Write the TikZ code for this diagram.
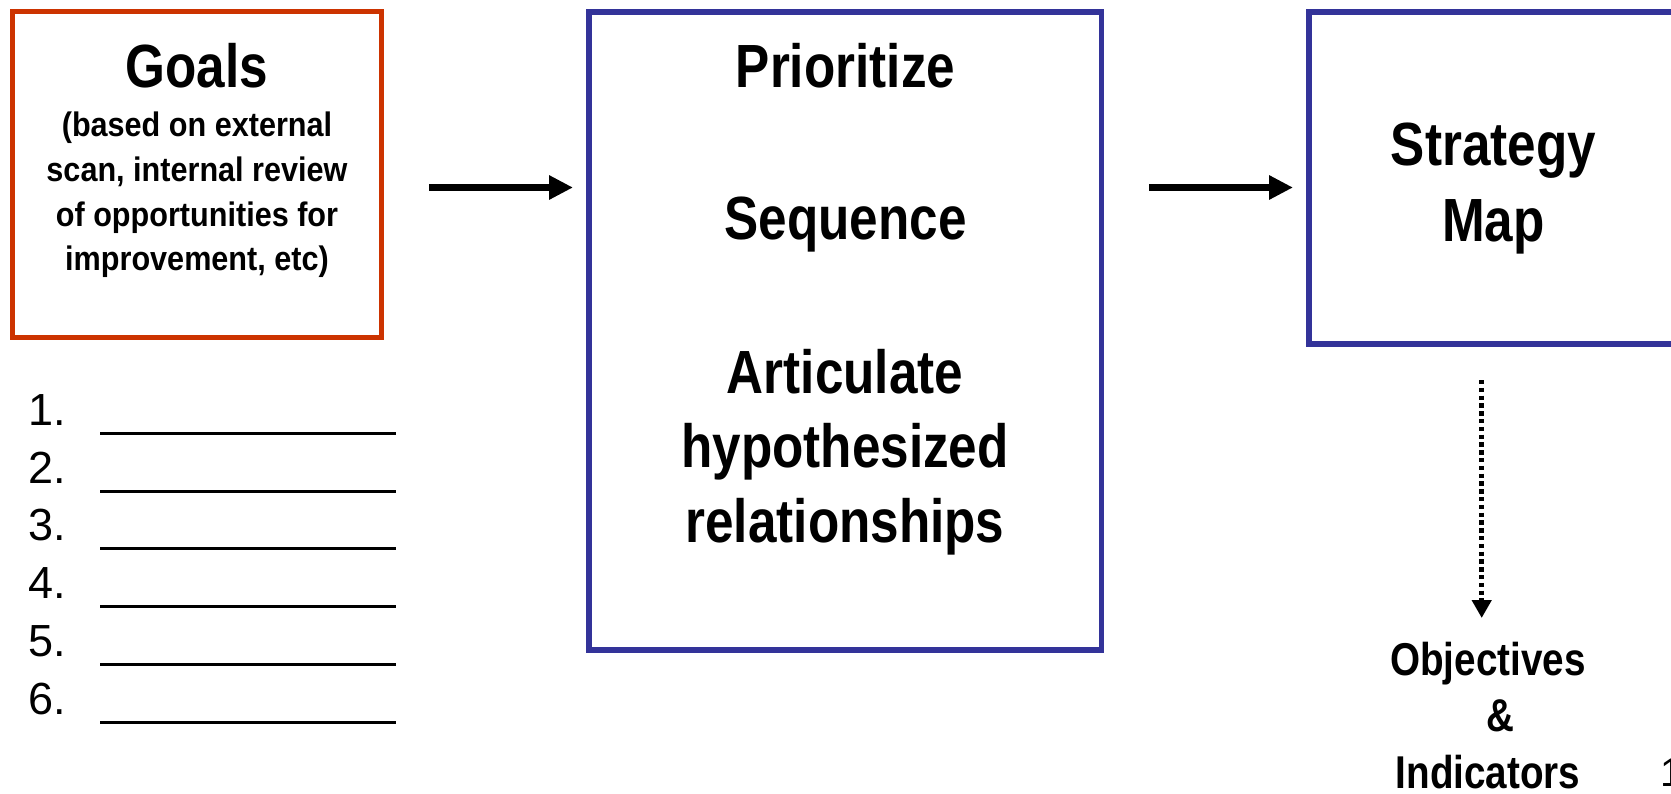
\documentclass[tikz,border=0pt]{standalone}
\usepackage{fontspec}
\setmainfont{Liberation Sans}
\newfontfamily\headfont{Liberation Sans}[FakeStretch=0.84]
\newfontfamily\notefont{Liberation Sans}[FakeStretch=0.9]
\usetikzlibrary{arrows.meta}
\definecolor{goalred}{RGB}{204,51,0}
\definecolor{mapblue}{RGB}{51,51,153}
\begin{document}
\begin{tikzpicture}[x=1pt,y=-1pt,
  box/.style={draw, inner sep=0pt, line width=5.5pt},
  head/.style={anchor=base, inner sep=0pt, font=\headfont\bfseries\fontsize{61}{61}\selectfont},
  note/.style={anchor=base, inner sep=0pt, font=\notefont\bfseries\fontsize{34}{34}\selectfont},
  result/.style={anchor=base, inner sep=0pt, font=\headfont\bfseries\fontsize{46}{46}\selectfont},
  num/.style={anchor=base west, inner sep=0pt, font=\fontsize{45}{45}\selectfont},
  flow/.style={line width=7pt, -{Triangle[length=24pt,width=23pt]}},
  dotflow/.style={line width=5.5pt, dash pattern=on 4.3pt off 3.5pt, -{Triangle[length=18pt,width=19pt]}},
  blank/.style={line width=3pt}
]
\useasboundingbox (0,0) rectangle (1671,793);
\fill[white] (0,0) rectangle (1671,793);
\clip (0,0) rectangle (1671,793);

% Frames
\node[box, draw=goalred, line width=5pt, minimum width=369pt, minimum height=326pt] (goals) at (197,174.5) {};
\node[box, draw=mapblue, minimum width=512.5pt, minimum height=638pt] (plan) at (845,331) {};
\node[box, draw=mapblue, minimum width=391pt, minimum height=332pt] (map) at (1504.4,177.9) {};

% Goals frame text
\node[head] (goalstitle) at (197,87) {Goals};
\node[note] (g1) at (197,136.7) {(based on external};
\node[note] (g2) at (197,181.4) {scan, internal review};
\node[note] (g3) at (197,226.1) {of opportunities for};
\node[note] (g4) at (197,270.8) {improvement, etc)};

% Middle frame text
\node[head] (prio) at (845.5,87) {Prioritize};
\node[head] (seq) at (845.5,239) {Sequence};
\node[head] (art1) at (845,393.3) {Articulate};
\node[head] (art2) at (845,467) {hypothesized};
\node[head] (art3) at (845,542) {relationships};

% Right frame text
\node[head] (map1) at (1493.5,165) {Strategy};
\node[head] (map2) at (1493.5,241) {Map};

% Outcome text
\node[result] (obj1) at (1488,675) {Objectives};
\node[result] (obj2) at (1500,731) {\&};
\node[result] (obj3) at (1488,788) {Indicators};
\node[anchor=base west, inner sep=0pt, font=\fontsize{40}{40}\selectfont] (page) at (1660,786) {1};

% Numbered blanks
\foreach \i in {1,...,6} {
  \pgfmathsetmacro\yb{425.3+57.8*(\i-1)}
  \node[num] (num\i) at (28,\yb) {\i.};
  \coordinate (bl\i) at (100,\yb+8);
  \coordinate (br\i) at (396,\yb+8);
  \draw[blank] (bl\i) -- (br\i);
}

% Flow arrows
\coordinate (f1a) at (429,187.5);
\coordinate (f1b) at (573,187.5);
\coordinate (f2a) at (1149,187.5);
\coordinate (f2b) at (1293,187.5);
\coordinate (f3a) at (1481.7,380);
\coordinate (f3b) at (1481.7,618);
\draw[flow] (f1a) -- (f1b);
\draw[flow] (f2a) -- (f2b);
\draw[dotflow] (f3a) -- (f3b);
\end{tikzpicture}
\end{document}
